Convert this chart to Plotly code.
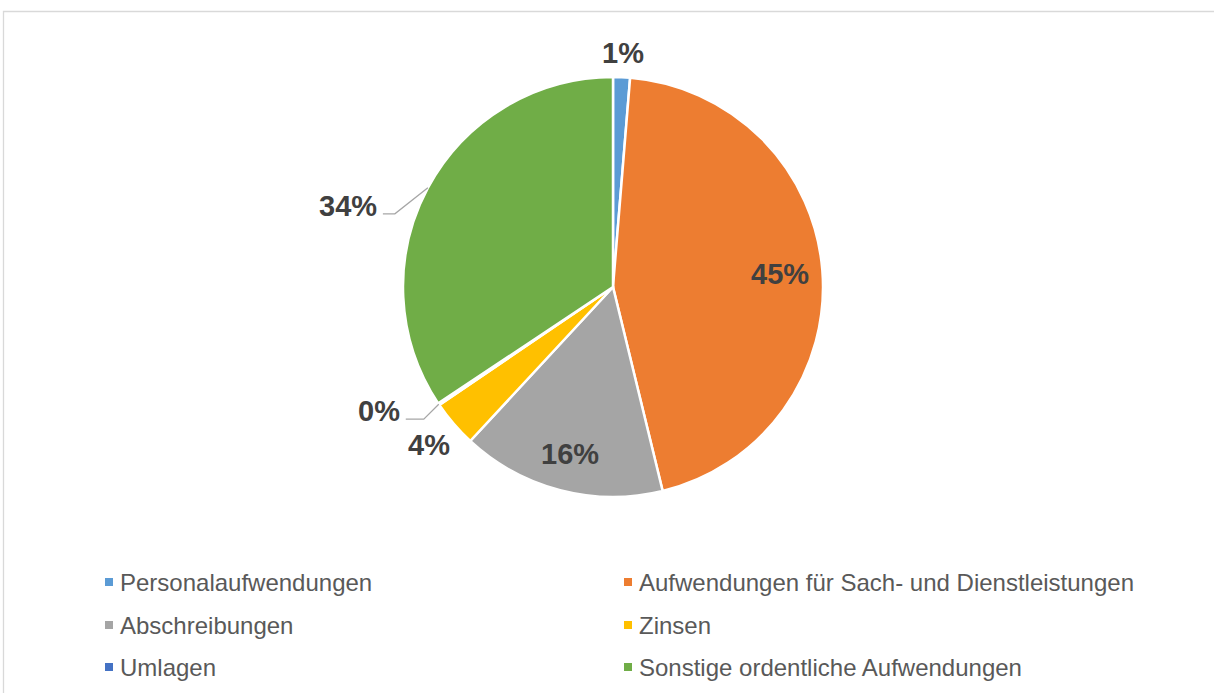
import math
import plotly.graph_objects as go

# ---- data ----
categories = [
    "Personalaufwendungen",
    "Aufwendungen für Sach- und Dienstleistungen",
    "Abschreibungen",
    "Zinsen",
    "Umlagen",
    "Sonstige ordentliche Aufwendungen",
]
values = [1.3, 44.9, 15.7, 3.6, 0.15, 34.35]
colors = ["#5B9BD5", "#ED7D31", "#A5A5A5", "#FFC000", "#4472C4", "#70AD47"]

# ---- layout constants (pixels) ----
W, H = 1214, 693
CX, CY, R = 613, 287, 210


def px(x):
    return x / W


def py(y):
    return 1 - y / H


fig = go.Figure()
fig.add_trace(go.Pie(
    labels=categories,
    values=values,
    sort=False,
    direction="clockwise",
    rotation=0,
    marker=dict(colors=colors, line=dict(color="white", width=2.5)),
    textinfo="none",
    hoverinfo="label+percent",
    showlegend=False,
    domain=dict(x=[px(CX - R), px(CX + R)], y=[py(CY + R), py(CY - R)]),
))

total = sum(values)
label_font = dict(family="Arial, Liberation Sans, sans-serif", size=29, color="#404040")
placement = [
    ("radial", R + 24),
    ("radial", 0.8 * R),
    ("radial", 0.82 * R),
    ("radial", R + 33),
    ("leader", (-15, 15, -18)),
    ("leader", (-33, 26, -12)),
]

annotations = []
shapes = []
cum = 0.0
for cat, v, (mode, p) in zip(categories, values, placement):
    mid = (cum + v / 2) / total * 2 * math.pi
    cum += v
    txt = f"{round(v / total * 100):.0f}%"
    s, c = math.sin(mid), math.cos(mid)
    if mode == "radial":
        x, y = CX + p * s, CY - p * c
        annotations.append(dict(x=px(x), y=py(y), xref="paper", yref="paper",
                                text=f"<b>{txt}</b>", showarrow=False,
                                font=label_font, xanchor="center", yanchor="middle"))
    else:
        dx, dy, hx = p
        x0, y0 = CX + R * s, CY - R * c
        x1, y1 = x0 + dx, y0 + dy
        x2 = x1 + hx
        shapes.append(dict(type="path", xref="paper", yref="paper",
                           path=f"M {px(x0)} {py(y0)} L {px(x1)} {py(y1)} L {px(x2)} {py(y1)}",
                           line=dict(color="#A6A6A6", width=1.3)))
        annotations.append(dict(x=px(x2 - 4), y=py(y1 - 8), xref="paper", yref="paper",
                                text=f"<b>{txt}</b>", showarrow=False,
                                font=label_font, xanchor="right", yanchor="middle"))

# ---- legend (two columns, row-major) ----
leg_cols_x = [109, 628]
leg_rows_y = [582, 625, 667]
for i, (cat, col) in enumerate(zip(categories, colors)):
    lx = leg_cols_x[i % 2]
    ly = leg_rows_y[i // 2]
    shapes.append(dict(type="rect", xref="paper", yref="paper",
                       x0=px(lx - 4), x1=px(lx + 4), y0=py(ly + 4), y1=py(ly - 4),
                       fillcolor=col, line=dict(width=0)))
    annotations.append(dict(x=px(lx + 9), y=py(ly), xref="paper", yref="paper",
                            text=cat, showarrow=False, xanchor="left", yanchor="middle",
                            font=dict(family="Arial, Liberation Sans, sans-serif",
                                      size=24, color="#595959")))

# chart-area border
shapes.append(dict(type="rect", xref="paper", yref="paper",
                   x0=px(3.5), x1=px(W + 10), y0=py(H + 10), y1=py(11.5),
                   line=dict(color="#D9D9D9", width=1.3), fillcolor="rgba(0,0,0,0)"))

fig.update_layout(
    width=W, height=H,
    margin=dict(l=0, r=0, t=0, b=0),
    paper_bgcolor="white",
    plot_bgcolor="white",
    annotations=annotations,
    shapes=shapes,
)

fig.write_html("out.html",
               config={"displayModeBar": False},
               post_script="document.body.style.margin='0';document.body.style.overflow='hidden';")
